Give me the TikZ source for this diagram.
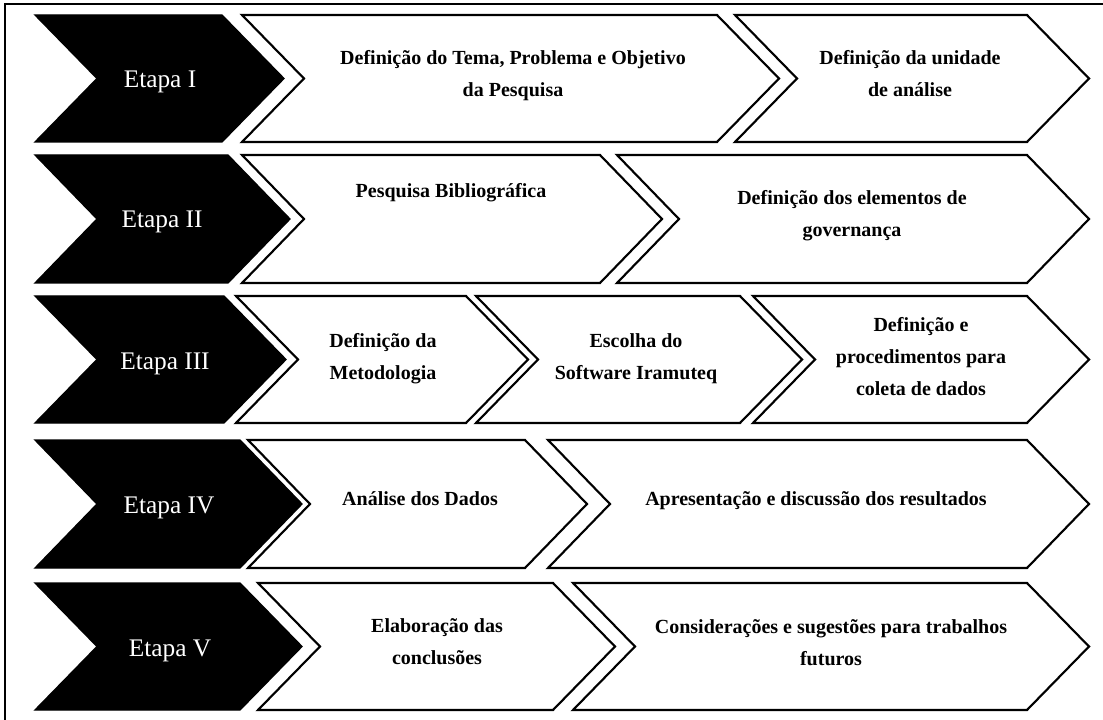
\documentclass[tikz,border=0pt]{standalone}
\usepackage{fontspec}
\setmainfont{Liberation Serif}
\begin{document}
\begin{tikzpicture}[x=0.75pt,y=-0.75pt,
  blackchev/.style={fill=black,draw=black,line width=1pt,line join=miter},
  whitechev/.style={fill=white,draw=black,line width=1.6pt,line join=miter},
  etapa/.style={text=white,font=\fontsize{19}{23}\selectfont,anchor=base,inner sep=0pt},
  lbl/.style={font=\fontsize{15}{24}\selectfont\bfseries,align=center,anchor=base,inner sep=0pt},
  framestyle/.style={draw=black,line width=1.5pt}]
\useasboundingbox (0,0) rectangle (1103,720);
\newcommand\chev[5]{%
  \pgfmathsetmacro\mymid{(#4+#5)/2}%
  \draw[#1] (#2,#4) -- (#3,#4) -- ({#3+62},\mymid) -- (#3,#5) -- (#2,#5) -- ({#2+62},\mymid) -- cycle;}
% frame
\coordinate (fbl) at (5,722);
\coordinate (ftl) at (5,4);
\coordinate (ftr) at (1105,4);
\draw[framestyle] (fbl) -- (ftl) -- (ftr);
% row 1
\chev{blackchev}{35}{222}{15}{142}
\chev{whitechev}{242}{717}{15}{142}
\chev{whitechev}{735}{1027}{15}{142}
% row 2
\chev{blackchev}{35}{228}{155}{283}
\chev{whitechev}{242}{600}{155}{283}
\chev{whitechev}{617}{1027}{155}{283}
% row 3
\chev{blackchev}{35}{224}{296}{423}
\chev{whitechev}{236}{466}{296}{423}
\chev{whitechev}{476}{740}{296}{423}
\chev{whitechev}{753}{1027}{296}{423}
% row 4
\chev{blackchev}{35}{240}{440}{568}
\chev{whitechev}{248}{525}{440}{568}
\chev{whitechev}{548}{1027}{440}{568}
% row 5
\chev{blackchev}{35}{240}{583}{710}
\chev{whitechev}{258}{553}{583}{710}
\chev{whitechev}{573}{1027}{583}{710}
% labels
\node[etapa] (e1) at (160,88) {Etapa I};
\node[etapa] (e2) at (162,228) {Etapa II};
\node[etapa] (e3) at (165,369) {Etapa III};
\node[etapa] (e4) at (169,513) {Etapa IV};
\node[etapa] (e5) at (170,656) {Etapa V};
\node[lbl] (t1a) at (513,97) {Definição do Tema, Problema e Objetivo\\da Pesquisa};
\node[lbl] (t1b) at (910,97) {Definição da unidade\\de análise};
\node[lbl] (t2a) at (451,198) {Pesquisa Bibliográfica};
\node[lbl] (t2b) at (852,237) {Definição dos elementos de\\governança};
\node[lbl] (t3a) at (383,379) {Definição da\\Metodologia};
\node[lbl] (t3b) at (636,379) {Escolha do\\Software Iramuteq};
\node[lbl] (t3c) at (921,395) {Definição e\\procedimentos para\\coleta de dados};
\node[lbl] (t4a) at (420,505) {Análise dos Dados};
\node[lbl] (t4b) at (816,505) {Apresentação e discussão dos resultados};
\node[lbl] (t5a) at (437,664) {Elaboração das\\conclusões};
\node[lbl] (t5b) at (831,665) {Considerações e sugestões para trabalhos\\futuros};
\end{tikzpicture}
\end{document}
